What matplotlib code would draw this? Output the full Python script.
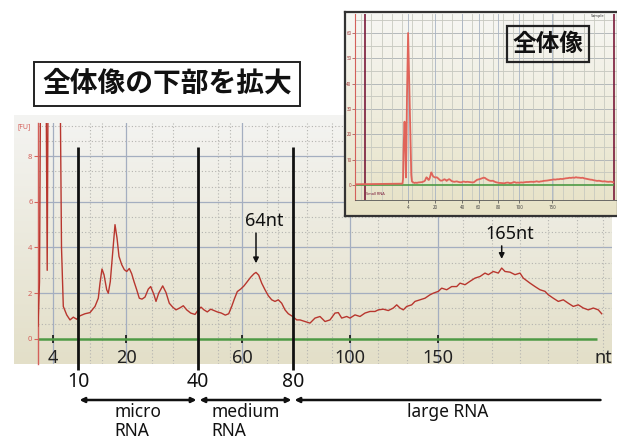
import numpy as np
import matplotlib
matplotlib.use("Agg")
import matplotlib.pyplot as plt
from matplotlib.colors import LinearSegmentedColormap
from matplotlib.transforms import blended_transform_factory

plt.rcParams['font.family'] = ['Noto Sans', 'Noto Sans CJK JP', 'DejaVu Sans']

# Size ladder: fragment length (nt) and migration time (s)
ladder_nt = [4, 10, 20, 40, 60, 80, 100, 150]
ladder_time = [21.5, 24.0, 28.8, 36.0, 40.4, 45.5, 51.2, 60.0]
nt_to_time = dict(zip(ladder_nt, ladder_time))

main_tick_nt = [4, 20, 60, 100, 150]
inset_tick_nt = [4, 20, 40, 60, 80, 100, 150]
region_nt = [10, 40, 80]
region_names = ["micro\nRNA", "medium\nRNA", "large RNA"]

# Electropherogram trace: migration time (s) and fluorescence (FU)
trace_time = [7.3, 10.0, 14.0, 17.0, 19.4, 20.0, 20.15, 20.3, 20.55, 20.8, 20.92, 21.05,
              21.2, 21.5, 21.8, 22.05,
              22.2, 22.35, 22.53, 22.87, 23.2, 23.53, 23.87, 24.2, 24.7, 25.2, 25.7, 26.03,
              26.2, 26.4, 26.6, 26.87, 27.03, 27.23, 27.47, 27.7, 27.9, 28.1, 28.37, 28.63,
              28.87, 29.13, 29.37, 29.6, 29.87, 30.13, 30.4, 30.7, 31.03, 31.27, 31.6, 31.8,
              32.07, 32.47, 32.8, 33.13, 33.47, 33.8, 34.2, 34.53, 34.87, 35.27, 35.7, 36.03,
              36.3, 36.6, 36.93, 37.27, 37.6, 37.93, 38.33, 38.73, 39.07, 39.37, 39.63, 39.93,
              40.27, 40.6, 40.93, 41.27, 41.6, 41.8, 42.07, 42.37, 42.7, 43.03, 43.37, 43.7,
              44.03, 44.37, 44.7, 45.03, 45.47, 45.87, 46.2, 47.2, 47.7, 48.2, 48.7, 49.2,
              49.7, 50.03, 50.37, 50.87, 51.2, 51.7, 52.2, 52.7, 53.2, 53.7, 54.03, 54.53,
              55.03, 55.53, 55.87, 56.2, 56.53, 56.87, 57.37, 57.7, 58.2, 58.7, 59.2, 59.53,
              60.03, 60.37, 60.87, 61.37, 61.87, 62.2, 62.7, 63.2, 63.7, 64.2, 64.7, 65.03,
              65.53, 66.03, 66.37, 66.7, 67.2, 67.7, 68.2, 68.53, 69.2, 69.7, 70.2, 70.7,
              71.03, 71.53, 72.03, 72.53, 73.03, 73.53, 74.03, 74.53, 75.03, 75.53, 76.03, 76.37]
trace_fu = [0.3, 0.35, 0.4, 0.45, 0.5, 0.55, 2.5, 15.0, 25.0, 12.0, 3.0, 15.0,
            35.0, 60.0, 40.0, 22.0,
            12.0, 4.0, 1.42, 1.05, 0.83, 0.95, 0.86, 1.01, 1.10, 1.15, 1.42, 1.78,
            2.44, 3.06, 2.81, 2.15, 2.0, 2.51, 3.76, 5.0, 4.42, 3.61, 3.25, 3.03,
            2.95, 3.08, 2.85, 2.51, 2.15, 1.78, 1.74, 1.83, 2.18, 2.29, 1.93, 1.64,
            2.0, 2.32, 2.03, 1.56, 1.39, 1.27, 1.36, 1.45, 1.27, 1.13, 1.07, 1.27,
            1.39, 1.27, 1.18, 1.30, 1.24, 1.18, 1.13, 1.04, 1.10, 1.42, 1.74, 2.07,
            2.18, 2.32, 2.51, 2.70, 2.85, 2.91, 2.79, 2.44, 2.15, 1.89, 1.71, 1.64,
            1.71, 1.56, 1.27, 1.10, 0.98, 0.83, 0.83, 0.69, 0.91, 0.98, 0.76, 0.83,
            1.13, 1.15, 0.91, 0.98, 0.91, 1.05, 0.98, 1.13, 1.20, 1.20, 1.27, 1.30,
            1.24, 1.35, 1.49, 1.35, 1.27, 1.42, 1.49, 1.64, 1.71, 1.78, 1.93, 2.0,
            2.08, 2.22, 2.15, 2.29, 2.29, 2.44, 2.37, 2.52, 2.66, 2.73, 2.88, 2.81,
            2.95, 2.88, 3.10, 2.95, 2.92, 2.81, 2.88, 2.66, 2.44, 2.29, 2.15, 2.08,
            1.93, 1.78, 1.64, 1.71, 1.56, 1.42, 1.49, 1.35, 1.27, 1.35, 1.27, 1.10]

peak_labels = ["64nt", "165nt"]
peak_time = [41.8, 66.37]
peak_fu = [2.91, 3.10]

W, H = 617, 436
fig = plt.figure(figsize=(W / 100, H / 100), dpi=100)
fig.patch.set_facecolor('white')


def px_rect(x0, y0, x1, y1):
    return [x0 / W, 1 - y1 / H, (x1 - x0) / W, (y1 - y0) / H]


def gradient_panel(rect, top, bottom, zorder):
    bg = fig.add_axes(rect, zorder=zorder)
    cmap = LinearSegmentedColormap.from_list('panel', [top, bottom])
    bg.imshow(np.linspace(0, 1, 256).reshape(-1, 1), aspect='auto', cmap=cmap,
              extent=[0, 1, 0, 1], origin='upper')
    bg.set_xticks([])
    bg.set_yticks([])
    return bg


RED_AXIS = '#d4605a'
GREEN = '#4e9a45'
GRID_SOLID = '#a4aec0'
GRID_DOT = '#b4b4b0'

# ---------------- main (enlarged) electropherogram ----------------
bg = gradient_panel(px_rect(14, 115, 612, 364), '#f4f4f2', '#e3dfc8', 0)
for s in bg.spines.values():
    s.set_visible(False)

ax = fig.add_axes(px_rect(38, 123, 612, 364), zorder=1)
ax.patch.set_alpha(0)
ax.set_xlim(20.0, 77.4)
ax.set_ylim(-1.1, 9.45)

# grid
for y in np.arange(2 / 3, 9.4, 2 / 3):
    if abs(y / 2 - round(y / 2)) > 0.01:
        ax.axhline(y, color=GRID_DOT, lw=0.8, ls=(0, (1, 2)), zorder=0)
for y in [2, 4, 6, 8]:
    ax.axhline(y, color=GRID_SOLID, lw=0.9, zorder=0)
minor_x = [25.2, 26.4, 31.4, 33.5, 38.0, 39.2, 42.9, 44.0, 46.9, 49.4, 54.0,
           56.9, 62.5, 65.4, 68.2, 71.0, 73.9, 76.5]
for x in minor_x:
    ax.axvline(x, color=GRID_DOT, lw=0.8, ls=(0, (1, 2)), zorder=0)
for n in main_tick_nt:
    ax.axvline(nt_to_time[n], color=GRID_SOLID, lw=0.9, zorder=0)

ax.hlines(0, 20.0, 75.9, color=GREEN, lw=1.8, zorder=2)
ax.plot(trace_time, trace_fu, color='#b8362e', lw=1.0, zorder=3)

for s in ['top', 'right']:
    ax.spines[s].set_visible(False)
ax.spines['left'].set_color(RED_AXIS)
ax.spines['left'].set_linewidth(1.0)
ax.spines['bottom'].set_position(('data', 0))
ax.spines['bottom'].set_visible(False)
ax.set_yticks([0, 2, 4, 6, 8])
ax.tick_params(axis='y', colors=RED_AXIS, labelsize=5.5, length=3, width=0.8, pad=1)
ax.set_xticks([nt_to_time[n] for n in main_tick_nt])
ax.set_xticklabels([str(n) for n in main_tick_nt])
ax.tick_params(axis='x', direction='inout', length=6, width=1.2, color='#111',
               labelsize=13, labelcolor='#222', pad=4)
fig.text(24 / W, 1 - 127 / H, '[FU]', color=RED_AXIS, fontsize=5, ha='center', va='center')
fig.text(603 / W, 1 - 358 / H, 'nt', color='#222', fontsize=13, ha='center', va='center')

# region boundaries
trans = blended_transform_factory(ax.transData, fig.transFigure)
region_t = [nt_to_time[n] for n in region_nt]
ax.vlines(region_t, -1.36, 8.42, color='#111', lw=2.0, clip_on=False, zorder=4)
for n, t in zip(region_nt, region_t):
    ax.text(t, 1 - 382 / H, str(n), transform=trans, ha='center', va='center',
            fontsize=14, color='#111')

arrow_y = 1 - 400 / H
t_end = 76.4
spans = [(region_t[0], region_t[1], '<|-|>'), (region_t[1], region_t[2], '<|-|>'),
         (region_t[2], t_end, '<|-')]
for (a, b, style), name in zip(spans, region_names):
    ax.annotate('', xy=(b - 0.15, arrow_y), xytext=(a + 0.15, arrow_y),
                xycoords=trans, textcoords=trans, annotation_clip=False,
                arrowprops=dict(arrowstyle=style, color='#111', lw=1.8,
                                mutation_scale=7, shrinkA=0, shrinkB=0))
    ax.text((a + b) / 2, 1 - 403 / H, name, transform=trans, ha='center', va='top',
            multialignment='left', fontsize=12.5, color='#111', linespacing=1.05)

# peak size annotations
arrow_len = [1.32, 0.57]
for lab, t, f, ln in zip(peak_labels, peak_time, peak_fu, arrow_len):
    ax.annotate('', xy=(t, f + 0.4), xytext=(t, f + 0.4 + ln),
                arrowprops=dict(arrowstyle='-|>', color='#111', lw=1.1,
                                mutation_scale=8, shrinkA=0, shrinkB=0))
    ax.annotate(lab, xy=(t, f + 0.4 + ln), xytext=(6, 2), textcoords='offset points',
                ha='center', va='bottom', fontsize=13, color='#111')

fig.text(167 / W, 1 - 84 / H, '全体像の下部を拡大', fontsize=20, fontweight='bold',
         family=['Noto Sans CJK JP', 'DejaVu Sans'], ha='center', va='center',
         color='#111',
         bbox=dict(boxstyle='square,pad=0.3', fc='white', ec='#222', lw=1.4))

# ---------------- inset: whole electropherogram ----------------
ibg = gradient_panel(px_rect(345, 12, 618, 216), '#f7f7f4', '#e7e2c6', 5)
for s in ibg.spines.values():
    s.set_color('#333')
    s.set_linewidth(1.6)

ins = fig.add_axes(px_rect(355, 14, 617, 200), zorder=6)
ins.patch.set_alpha(0)
ins.set_xlim(7.3, 77.35)
ins.set_ylim(-5.9, 67.5)
for y in np.arange(5, 66, 5):
    ins.axhline(y, color='#c4c6be' if y % 10 else '#aab0b4', lw=0.6, zorder=0)
for x in np.arange(9.0, 76.0, 2.7):
    ins.axvline(x, color='#c8cac0', lw=0.6, zorder=0)
for n in inset_tick_nt:
    ins.axvline(nt_to_time[n], color='#a8b4c4', lw=0.6, zorder=0)
# run window markers
for x in [10.0, 76.6]:
    ins.axvline(x, color='#7a1a3a', lw=1.2, zorder=1)
ins.hlines(0, 7.3, 76.6, color=GREEN, lw=1.2, zorder=2)
ins.plot(trace_time, trace_fu, color='#e0645a', lw=1.3, zorder=3)
for s in ['top', 'right']:
    ins.spines[s].set_visible(False)
ins.spines['left'].set_color(RED_AXIS)
ins.spines['left'].set_linewidth(0.8)
ins.spines['bottom'].set_color('#555')
ins.spines['bottom'].set_linewidth(0.6)
ins.set_yticks(np.arange(0, 61, 10))
ins.tick_params(axis='y', colors='#a03a3a', labelsize=3.2, length=2, width=0.5, pad=0.5)
ins.set_xticks([nt_to_time[n] for n in inset_tick_nt])
ins.set_xticklabels([str(n) for n in inset_tick_nt])
ins.tick_params(axis='x', colors='#444', labelsize=3.2, length=2, width=0.5, pad=1.5)
ins.text(10.3, -3.5, 'Small RNA', fontsize=2.8, color='#7a1a3a', va='center')
fig.text(349 / W, 1 - 16 / H, '[FU]', fontsize=3.2, color='#a03a3a', va='center')
fig.text(598 / W, 1 - 16 / H, 'Sample', fontsize=2.8, color='#333', ha='center', va='center', zorder=7)

fig.text(548 / W, 1 - 44 / H, '全体像', fontsize=17, fontweight='bold',
         family=['Noto Sans CJK JP', 'DejaVu Sans'], ha='center', va='center',
         color='#111', zorder=8,
         bbox=dict(boxstyle='square,pad=0.25', fc='none', ec='#222', lw=1.6))

fig.savefig('out.png', dpi=100)
